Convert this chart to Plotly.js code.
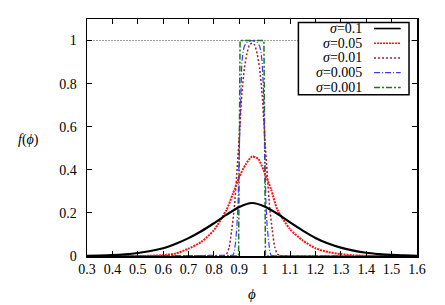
<!DOCTYPE html>
<html>
<head>
<meta charset="utf-8">
<script src="https://cdn.plot.ly/plotly-3.0.1.min.js"></script>
<style>
  html, body { margin: 0; padding: 0; background: #fff; }
  #chart { width: 445px; height: 305px; }
</style>
</head>
<body>
<div id="chart"></div>
<script>
// ---- Data ----
const seriesNames = ["σ=0.1", "σ=0.05", "σ=0.01", "σ=0.005", "σ=0.001"];

const xS01 = [0.30, 0.35, 0.40, 0.45, 0.50, 0.55, 0.60, 0.65, 0.70, 0.75, 0.80, 0.85, 0.90, 0.95, 1.00, 1.05, 1.10, 1.15, 1.20, 1.25, 1.30, 1.35, 1.40, 1.45, 1.50, 1.55, 1.60];
const yS01 = [0.001, 0.002, 0.004, 0.008, 0.014, 0.023, 0.036, 0.057, 0.083, 0.115, 0.152, 0.192, 0.228, 0.246, 0.230, 0.196, 0.156, 0.118, 0.084, 0.058, 0.039, 0.025, 0.015, 0.009, 0.005, 0.003, 0.001];

const xS005 = [0.30, 0.50, 0.55, 0.60, 0.65, 0.70, 0.75, 0.80, 0.85, 0.875, 0.90, 0.925, 0.95, 0.975, 1.00, 1.025, 1.05, 1.10, 1.15, 1.20, 1.25, 1.30, 1.35, 1.40, 1.45, 1.60];
const yS005 = [0, 0, 0.001, 0.004, 0.012, 0.034, 0.065, 0.120, 0.215, 0.290, 0.368, 0.425, 0.462, 0.450, 0.385, 0.310, 0.215, 0.124, 0.072, 0.036, 0.018, 0.009, 0.003, 0.001, 0, 0];

const xS001 = [0.30, 0.80, 0.84, 0.85, 0.86, 0.87, 0.88, 0.89, 0.90, 0.91, 0.92, 0.93, 0.94, 0.95, 0.96, 0.97, 0.98, 0.99, 1.00, 1.01, 1.02, 1.03, 1.04, 1.05, 1.06, 1.10, 1.60];
const yS001 = [0, 0, 0.002, 0.01, 0.04, 0.12, 0.22, 0.38, 0.56, 0.75, 0.87, 0.94, 0.98, 0.988, 0.98, 0.94, 0.87, 0.75, 0.56, 0.38, 0.22, 0.12, 0.04, 0.01, 0.002, 0, 0];

const xS0005 = [0.30, 0.86, 0.875, 0.88, 0.885, 0.89, 0.895, 0.90, 0.905, 0.91, 0.915, 0.92, 0.93, 0.95, 0.97, 0.98, 0.985, 0.99, 0.995, 1.00, 1.005, 1.01, 1.015, 1.02, 1.025, 1.04, 1.60];
const yS0005 = [0, 0, 0.003, 0.02, 0.06, 0.13, 0.24, 0.50, 0.78, 0.90, 0.95, 0.975, 0.992, 1.0, 0.992, 0.975, 0.95, 0.90, 0.78, 0.50, 0.24, 0.13, 0.06, 0.02, 0.003, 0, 0];

const xS0001 = [0.30, 0.897, 0.900, 0.903, 0.997, 1.000, 1.003, 1.60];
const yS0001 = [0, 0, 0.5, 1.0, 1.0, 0.5, 0, 0];

const refX = [0.3, 1.6];
const refY = [1, 1];

const xTickVals = [0.3, 0.4, 0.5, 0.6, 0.7, 0.8, 0.9, 1.0, 1.1, 1.2, 1.3, 1.4, 1.5, 1.6];
const yTickVals = [0, 0.2, 0.4, 0.6, 0.8, 1.0];

// ---- Styles ----
const serif = "Liberation Serif, Times New Roman, serif";
const styles = [
  {color: "#000000", width: 2.2, dash: "solid", shape: "spline"},
  {color: "#ff1010", width: 2.0, dash: "2px,1px", shape: "spline"},
  {color: "#a01c28", width: 1.5, dash: "2px,2px", shape: "spline"},
  {color: "#3a3aff", width: 1.2, dash: "6px,2px,1px,2px", shape: "linear"},
  {color: "#1a7a1a", width: 1.5, dash: "6px,2px,2px,2px", shape: "linear"}
];
const xs = [xS01, xS005, xS001, xS0005, xS0001];
const ys = [yS01, yS005, yS001, yS0005, yS0001];

const traces = [{
  x: refX, y: refY, mode: "lines", showlegend: false, hoverinfo: "skip",
  line: {color: "#9a9a9a", width: 1, dash: "2px,1px"}
}];
// draw in reverse order so the black curve sits on top
for (let i = xs.length - 1; i >= 0; i--) {
  traces.push({
    x: xs[i], y: ys[i], mode: "lines", name: seriesNames[i], showlegend: false,
    line: {color: styles[i].color, width: styles[i].width, dash: styles[i].dash,
           shape: styles[i].shape, smoothing: 0.6}
  });
}

// ---- Manual gnuplot-style key (text left, sample right) ----
const shapes = [{
  type: "rect", xref: "paper", yref: "paper",
  x0: 0.6406, x1: 0.9758, y0: 0.6808, y1: 0.9852,
  line: {color: "#000", width: 1.5}, fillcolor: "#fff", layer: "above"
}];
const annotations = [];
const rowTop = 0.9598, rowStep = 0.0621;
seriesNames.forEach((name, i) => {
  const yy = rowTop - i * rowStep;
  const parts = name.split("=");
  annotations.push({
    xref: "paper", yref: "paper", x: 0.8395, y: yy, xanchor: "right", yanchor: "middle",
    text: "<i>" + parts[0] + "</i>=" + parts[1], showarrow: false,
    font: {family: serif, size: 14, color: "#000"}
  });
  shapes.push({
    type: "line", xref: "paper", yref: "paper", x0: 0.8698, x1: 0.9506, y0: yy, y1: yy,
    line: {color: styles[i].color, width: Math.min(styles[i].width, 1.6), dash: styles[i].dash},
    layer: "above"
  });
});
annotations.push({
  xref: "paper", yref: "paper", x: -0.176, y: 0.49, xanchor: "center", yanchor: "middle",
  text: "<i>f</i>(<i>ϕ</i>)", showarrow: false, font: {family: serif, size: 14, color: "#000"}
});

const layout = {
  width: 445, height: 305,
  margin: {l: 87, r: 28, t: 19, b: 49, pad: 0},
  paper_bgcolor: "#fff", plot_bgcolor: "#fff",
  showlegend: false,
  font: {family: serif, size: 14, color: "#000"},
  xaxis: {
    range: [0.3, 1.6], tickvals: xTickVals, ticks: "inside", ticklen: 5, tickwidth: 1,
    tickcolor: "#000", showline: true, linecolor: "#000", linewidth: 1.5, mirror: "ticks",
    showgrid: false, zeroline: false, tickfont: {family: serif, size: 14},
    title: {text: "<i>ϕ</i>", font: {family: serif, size: 15}, standoff: 12}
  },
  yaxis: {
    range: [0, 1.1], tickvals: yTickVals, ticks: "inside", ticklen: 5, tickwidth: 1,
    tickcolor: "#000", showline: true, linecolor: "#000", linewidth: 1.5, mirror: "ticks",
    showgrid: false, zeroline: false, tickfont: {family: serif, size: 14}, ticklabelstandoff: 6
  },
  shapes: shapes,
  annotations: annotations
};

Plotly.newPlot("chart", traces, layout, {staticPlot: true, displayModeBar: false});
</script>
</body>
</html>
